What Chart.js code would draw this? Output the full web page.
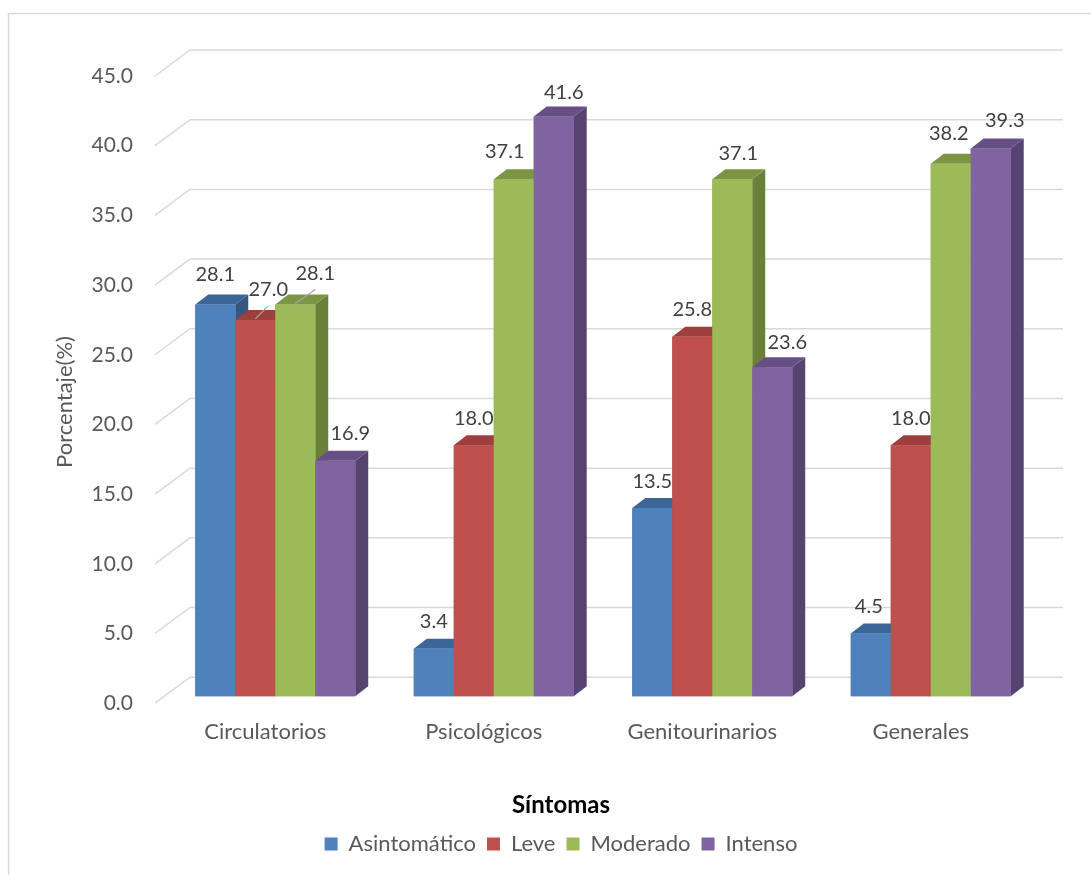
<!DOCTYPE html>
<html><head><meta charset="utf-8">
<script src="https://cdn.jsdelivr.net/npm/chart.js@4.4.0/dist/chart.umd.min.js"></script>
<style>html,body{margin:0;padding:0;background:#fff;}#wrap{width:1091px;height:875px;position:relative;}</style>
</head><body><div id="wrap"><canvas id="c" width="1091" height="875"></canvas></div>
<script>
// ---- data ----
const categories = ['Circulatorios', 'Psicológicos', 'Genitourinarios', 'Generales'];
const seriesNames = ['Asintomático', 'Leve', 'Moderado', 'Intenso'];
const asintomatico = [28.1, 3.4, 13.5, 4.5];
const leve = [27.0, 18.0, 25.8, 18.0];
const moderado = [28.1, 37.1, 37.1, 38.2];
const intenso = [16.9, 41.6, 23.6, 39.3];
const yTickValues = [0, 5, 10, 15, 20, 25, 30, 35, 40, 45];
const xTitle = 'Síntomas';
const yTitle = 'Porcentaje(%)';

// ---- style ----
const FONT = 'Lato, "Open Sans", sans-serif';
const frontColors = ['#4F81BD', '#C0504D', '#9BBB59', '#8064A2'];
const topColors = ['#3D6698', '#9C3F3D', '#7B9545', '#664F85'];
const sideColors = ['#35577F', '#883835', '#6A8039', '#56436F'];
const DEPTH = {dx: 13, dy: -10};
// label horizontal nudges (px) per series/category, and leader-line flags
const labelDX = [[0, 0, 0, -2], [13, 0, 0, 0], [20, -9, 6, -2], [15, 10, 15, 14]];
const labelRise = [[30, 27, 27, 27], [30, 27, 27, 27], [31, 28, 26, 30], [27, 24, 25, 28]];
const leader = [[false, false, false, false], [true, false, false, false], [true, false, false, false], [false, false, false, false]];

const seriesValues = [asintomatico, leve, moderado, intenso];

const perspective = {
  id: 'perspective',
  beforeDraw(chart) {
    const ctx = chart.ctx;
    ctx.save();
    ctx.strokeStyle = '#D9D9D9';
    ctx.lineWidth = 1.5;
    ctx.beginPath();
    ctx.moveTo(8.5, 875);
    ctx.lineTo(8.5, 13.5);
    ctx.lineTo(1091, 13.5);
    ctx.stroke();
    ctx.restore();
  },
  beforeDatasetsDraw(chart) {
    const ctx = chart.ctx, ys = chart.scales.y, ca = chart.chartArea;
    ctx.save();
    ctx.strokeStyle = '#D9D9D9';
    ctx.lineWidth = 1.5;
    yTickValues.forEach(v => {
      const yF = ys.getPixelForValue(v);
      ctx.beginPath();
      ctx.moveTo(ca.left - 11, yF);
      ctx.lineTo(ca.left + 24, yF - 26);
      ctx.lineTo(ca.right + 23, yF - 26);
      ctx.stroke();
    });
    ctx.restore();
  },
  afterDatasetsDraw(chart) {
    const ctx = chart.ctx;
    const metas = seriesValues.map((_, j) => chart.getDatasetMeta(j));
    ctx.save();
    for (let i = 0; i < categories.length; i++) {
      for (let j = 0; j < metas.length; j++) {
        const el = metas[j].data[i];
        const w = el.width, x0 = el.x - w / 2, x1 = el.x + w / 2, y = el.y, b = el.base;
        ctx.fillStyle = sideColors[j];
        ctx.beginPath();
        ctx.moveTo(x1, y); ctx.lineTo(x1 + DEPTH.dx, y + DEPTH.dy);
        ctx.lineTo(x1 + DEPTH.dx, b + DEPTH.dy); ctx.lineTo(x1, b); ctx.closePath(); ctx.fill();
        ctx.fillStyle = topColors[j];
        ctx.beginPath();
        ctx.moveTo(x0, y); ctx.lineTo(x0 + DEPTH.dx, y + DEPTH.dy);
        ctx.lineTo(x1 + DEPTH.dx, y + DEPTH.dy); ctx.lineTo(x1, y); ctx.closePath(); ctx.fill();
        ctx.fillStyle = frontColors[j];
        ctx.fillRect(x0, y, w, b - y);
      }
    }
    ctx.font = '20px ' + FONT;
    ctx.textAlign = 'center';
    ctx.textBaseline = 'middle';
    for (let j = 0; j < metas.length; j++) {
      for (let i = 0; i < categories.length; i++) {
        const el = metas[j].data[i];
        const lx = el.x + labelDX[j][i], ly = el.y - labelRise[j][i];
        if (leader[j][i]) {
          ctx.strokeStyle = '#A6A6A6'; ctx.lineWidth = 1.2;
          ctx.beginPath(); ctx.moveTo(el.x, el.y - 1); ctx.lineTo(lx, ly + 16); ctx.stroke();
        }
        ctx.fillStyle = '#404040';
        ctx.fillText(seriesValues[j][i].toFixed(1), lx, ly);
      }
    }
    ctx.save();
    ctx.font = '22px ' + FONT;
    ctx.translate(65, 402);
    ctx.rotate(-Math.PI / 2);
    ctx.fillStyle = '#595959';
    ctx.fillText(yTitle, 0, 0);
    ctx.restore();
    ctx.restore();
  }
};

new Chart(document.getElementById('c'), {
  type: 'bar',
  data: {
    labels: categories,
    datasets: seriesValues.map((vals, j) => ({
      label: seriesNames[j], data: vals, yAxisID: 'yb',
      backgroundColor: frontColors[j], borderWidth: 0,
      barPercentage: 1, categoryPercentage: 0.732
    }))
  },
  options: {
    responsive: false, animation: false,
    layout: {padding: {left: 82, right: 51, top: 76, bottom: 10}},
    plugins: {
      legend: {position: 'bottom', weight: 1000,
        labels: {boxWidth: 13, boxHeight: 13, padding: 11, color: '#595959', font: {family: FONT, size: 22}}},
      title: {display: true, text: xTitle, position: 'bottom', weight: 500, color: '#000000',
        font: {family: FONT, size: 24, weight: 'bold'}, padding: {top: 36, bottom: 2}},
      tooltip: {enabled: false}
    },
    scales: {
      x: {grid: {display: false, drawTicks: false}, border: {display: false},
        ticks: {color: '#595959', font: {family: FONT, size: 22}, padding: 16, labelOffset: -10},
        afterFit(s) { s.height = 52; }},
      y: {min: 0, max: 45, grid: {display: false, drawTicks: false}, border: {display: false},
        afterBuildTicks(s) { s.ticks = yTickValues.map(v => ({value: v})); },
        ticks: {color: '#595959', font: {family: FONT, size: 21}, padding: 33, callback: v => Number(v).toFixed(1)},
        afterFit(s) { s.width = 84; }},
      yb: {display: false, min: -0.5, max: 44.5}
    }
  },
  plugins: [perspective]
});
</script></body></html>
